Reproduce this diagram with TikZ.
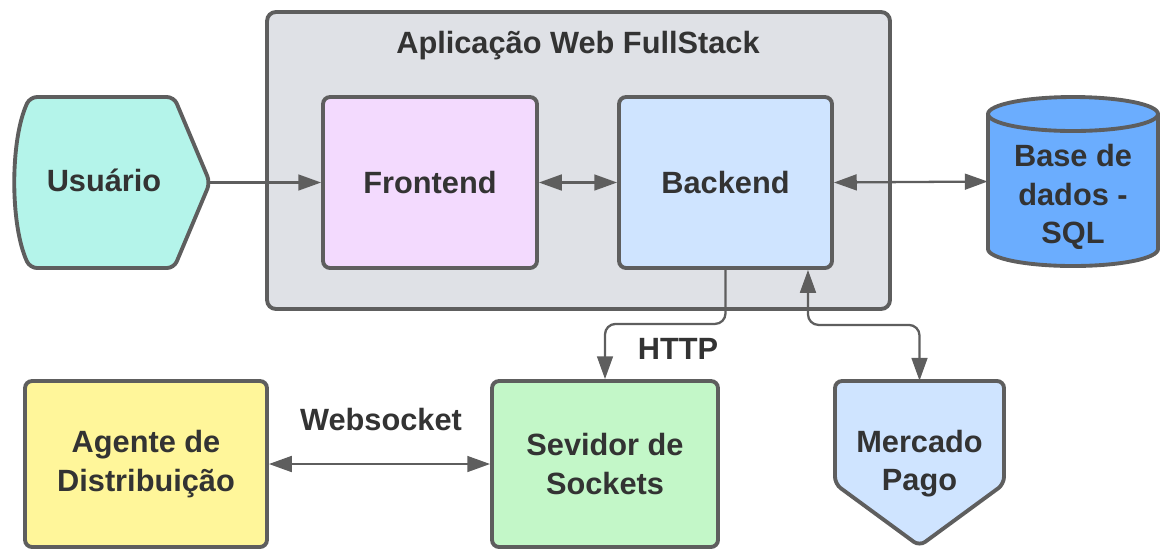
\documentclass[tikz,border=0pt]{standalone}
\usepackage{fontspec}
\setmainfont{Liberation Sans}
\usepackage{xcolor}
\usepackage{tikz}
\usetikzlibrary{arrows.meta}
\definecolor{edge}{HTML}{5E5E5E}
\definecolor{ink}{HTML}{333333}
\definecolor{appbg}{HTML}{DFE1E6}
\definecolor{userfill}{HTML}{B4F4EA}
\definecolor{frontfill}{HTML}{F3DAFE}
\definecolor{backfill}{HTML}{CFE4FF}
\definecolor{dbfill}{HTML}{6BADFE}
\definecolor{agentfill}{HTML}{FFF69A}
\definecolor{sockfill}{HTML}{C3F7C8}
\tikzstyle{word}=[text=ink,align=center,inner sep=0pt,font=\bfseries\fontsize{17.5}{22}\selectfont]
\tikzstyle{outline}=[draw=edge,line width=2.2pt,rounded corners=4pt]
\tikzstyle{block}=[word,outline]
\tikzstyle{link}=[draw=edge,line width=1.3pt,-{Triangle[length=13pt,width=9pt]}]
\tikzstyle{both}=[link,{Triangle[length=13pt,width=9pt]}-{Triangle[length=13pt,width=9pt]}]

\begin{document}
\begin{tikzpicture}[x=0.02cm,y=-0.02cm]
    \useasboundingbox (0,0) rectangle (1162,549);
    \node[block,fill=appbg,minimum width=124.6mm,minimum height=59.4mm,rounded corners=5pt] (app) at (578.5,160.5) {};
    \node[word] (title) at (578,46) {Aplicação Web FullStack};
    \node[block,fill=frontfill,minimum width=42.8mm,minimum height=34.2mm] (front) at (430,182.5) {Frontend};
    \node[block,fill=backfill,minimum width=42.6mm,minimum height=34.2mm] (back) at (725.5,182.5) {Backend};

    \filldraw[outline,fill=userfill] (174,97) -- (210,182.5) -- (174,268) -- (30,268)
      .. controls (10,225) and (10,140) .. (30,97) -- cycle;
    \node[minimum width=39.2mm,minimum height=34.2mm] (user) at (112,182.5) {};
    \node[word] (userlabel) at (104,180) {Usuário};

    \filldraw[outline,rounded corners=0pt,fill=dbfill] (988,114) -- (988,249)
      arc[start angle=180,end angle=0,x radius=85,y radius=17] -- (1158,114)
      arc[start angle=0,end angle=-180,x radius=85,y radius=17] -- cycle;
    \draw[outline,rounded corners=0pt] (988,114) arc[start angle=180,end angle=0,x radius=85,y radius=17];
    \node[minimum width=34mm,minimum height=33.8mm] (db) at (1073,181.5) {};
    \node[word] (dblabel) at (1073,197) {Base de\\dados -\\SQL};

    \node[block,fill=agentfill,minimum width=48.4mm,minimum height=33.2mm] (agent) at (146,464) {Agente de\\Distribuição};
    \node[block,fill=sockfill,minimum width=45.2mm,minimum height=33.2mm] (sock) at (605,464) {Sevidor de\\Sockets};

    \filldraw[outline,fill=backfill] (835,381) -- (1004,381) -- (1004,484) -- (919.5,546) -- (835,484) -- cycle;
    \node[word,minimum width=33.8mm,minimum height=33mm] (mp) at (919.5,463.5) {Mercado\\Pago};

    \draw[link] (user.east) -- (front.west);
    \draw[both] (front.east) -- (back.west);
    \draw[both] (back.east) -- (db.west);
    \draw[link,rounded corners=6pt] (back.south) -- ++(0,54) -| (sock.north);
    \draw[both,rounded corners=6pt] ([xshift=16.5mm]back.south) -- ++(0,55) -| (mp.north);
    \draw[both] (agent.east) -- (sock.west);
    \node[word] (http) at (678,349) {HTTP};
    \node[word] (ws) at (381,419) {Websocket};
  \end{tikzpicture}
\end{document}
